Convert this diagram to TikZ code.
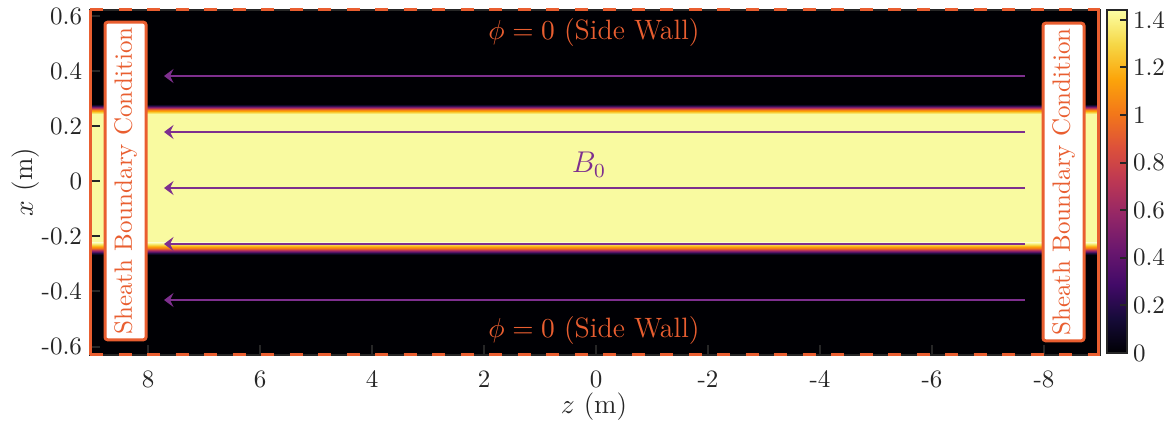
\documentclass[tikz,border=0pt]{standalone}
\usepackage{amsmath}
\usepackage{xcolor}
\usepackage{tikz}
\usetikzlibrary{positioning, arrows.meta, calc}

\definecolor{sheathOrange}{RGB}{233, 94, 48}
\definecolor{fieldPurple}{RGB}{126, 47, 142}
\definecolor{axisGray}{RGB}{38, 38, 38}
\definecolor{bandYellow}{RGB}{249, 250, 160}
% inferno colormap stops
\definecolor{infA}{HTML}{000004}
\definecolor{infB}{HTML}{160B39}
\definecolor{infC}{HTML}{420A68}
\definecolor{infD}{HTML}{6A176E}
\definecolor{infE}{HTML}{932667}
\definecolor{infF}{HTML}{BC3754}
\definecolor{infG}{HTML}{DD513A}
\definecolor{infH}{HTML}{F37819}
\definecolor{infI}{HTML}{FCA50A}
\definecolor{infJ}{HTML}{F6D746}
\definecolor{infK}{HTML}{FCFFA4}

\pgfdeclareverticalshading{inferno}{100bp}{color(0bp)=(infA); color(25bp)=(infA);
  color(30bp)=(infB); color(35bp)=(infC); color(40bp)=(infD); color(45bp)=(infE);
  color(50bp)=(infF); color(55bp)=(infG); color(60bp)=(infH); color(65bp)=(infI);
  color(70bp)=(infJ); color(75bp)=(infK); color(100bp)=(infK)}
\pgfdeclareverticalshading{bandedge}{100bp}{color(0bp)=(bandYellow); color(25bp)=(bandYellow);
  color(33bp)=(infJ); color(40bp)=(infI); color(47bp)=(infH); color(54bp)=(infF);
  color(61bp)=(infD); color(68bp)=(infB); color(75bp)=(infA); color(100bp)=(infA)}

\begin{document}
\begin{tikzpicture}[
                x=0.4pt, y=-0.4pt,
                tick/.style={draw=axisGray, line width=0.8pt},
                ticklabel/.style={text=axisGray, font=\fontsize{10}{12}\selectfont, inner sep=1pt},
                axislabel/.style={text=axisGray, font=\fontsize{11}{13}\selectfont},
                wall/.style={text=sheathOrange, font=\fontsize{11.2}{13}\selectfont},
                sheath/.style={rectangle, draw=sheathOrange, fill=white, line width=1.2pt, rounded corners=1pt,
                  rotate=90, minimum width=127pt, minimum height=16.4pt, inner sep=0pt,
                  text=sheathOrange, font=\fontsize{10}{12}\selectfont},
                fieldline/.style={draw=fieldPurple, line width=1pt, -{Stealth[length=3.8pt, width=5.6pt, inset=1.4pt]}},
                border/.style={draw=sheathOrange, line width=1.2pt}
            ]
                \useasboundingbox (0,0) rectangle (1173,425);

                % --- DENSITY MAP ---
                \fill[infA] (90,10) rectangle (1100,355);
                \fill[bandYellow] (90,114) rectangle (1100,243);
                \shade[shading=bandedge] (90,104) rectangle (1100,114);
                \shade[shading=bandedge, shading angle=180] (90,243) rectangle (1100,255);

                % --- FIELD LINES ---
                \foreach \y [count=\i] in {76,132,188,244,300} {
                  \coordinate (fs\i) at (1025,\y);
                  \coordinate (fe\i) at (164,\y);
                  \draw[fieldline] (fs\i) -- (fe\i);
                }
                \node[text=fieldPurple, font=\fontsize{11.5}{13}\selectfont] (bzero) at (589,165) {$B_0$};

                % --- AXES ---
                \draw[axisGray, line width=0.8pt] (90,10) rectangle (1100,355);
                \foreach \z [count=\i] in {8,6,...,-8} {
                  \draw[tick] ({596-56*\z},355) -- ++(0,-10);
                  \node[ticklabel] (zt\i) at ({596-56*\z},379) {\z};
                }
                \foreach \v [count=\i] in {0.6,0.4,0.2,0,-0.2,-0.4,-0.6} {
                  \draw[tick] (90,{181.5-275*\v}) -- ++(10,0);
                  \node[ticklabel, anchor=east] (xt\i) at (85,{181.5-275*\v}) {\v};
                }
                \node[axislabel] (zlabel) at (594,407) {$z$ (m)};
                \node[axislabel, rotate=90] (xlabel) at (26,182) {$x$ (m)};

                % --- COLORBAR ---
                \shade[shading=inferno, draw=axisGray, line width=0.8pt] (1107,10) rectangle (1127,353);
                \foreach \c [count=\i] in {0,0.2,0.4,0.6,0.8,1,1.2,1.4} {
                  \draw[tick] (1127,{353-238*\c}) -- ++(-7,0);
                  \node[ticklabel, anchor=west] (ct\i) at (1130,{353-238*\c}) {\c};
                }

                % --- BOUNDARIES ---
                \draw[border] (90,10) -- (90,355);
                \draw[border] (1098,10) -- (1098,355);
                \draw[border, dash pattern=on 5.2pt off 6.2pt] (90,10) -- (1100,10);
                \draw[border, dash pattern=on 5.2pt off 6.2pt] (90,355) -- (1100,355);

                \node[sheath] (leftsheath) at (125.5,181) {Sheath Boundary Condition};
                \node[sheath] (rightsheath) at (1063.5,182) {Sheath Boundary Condition};

                \node[wall] (topwall) at (594,33) {$\phi = 0$ (Side Wall)};
                \node[wall] (bottomwall) at (594,331) {$\phi = 0$ (Side Wall)};

            \end{tikzpicture}
\end{document}
